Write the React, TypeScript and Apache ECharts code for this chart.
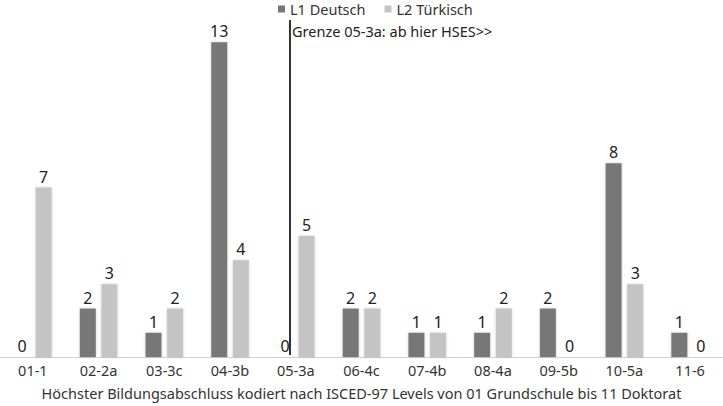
import React, { useEffect, useRef } from "react";
import * as echarts from "echarts";

const categories = ["01-1", "02-2a", "03-3c", "04-3b", "05-3a", "06-4c", "07-4b", "08-4a", "09-5b", "10-5a", "11-6"];
const l1Deutsch = [0, 2, 1, 13, 0, 2, 1, 1, 2, 8, 1];
const l2Tuerkisch = [7, 3, 2, 4, 5, 2, 1, 2, 0, 3, 0];
const seriesNames = ["L1 Deutsch", "L2 Türkisch"];
const xTitle = "Höchster Bildungsabschluss kodiert nach ISCED-97 Levels von 01 Grundschule bis 11 Doktorat";
const markerText = "Grenze 05-3a: ab hier HSES>>";

const FONT = "Noto Sans";

export default function App() {
  const ref = useRef<HTMLDivElement>(null);
  useEffect(() => {
    if (!ref.current) return;
    const chart = echarts.init(ref.current, null, { renderer: "svg" });
    const label = {
      show: true,
      position: "top",
      distance: 3,
      color: "#222",
      fontSize: 16,
      fontFamily: FONT,
    };
    const shadow = { shadowBlur: 3, shadowColor: "rgba(0,0,0,0.18)" };
    chart.setOption({
      animation: false,
      backgroundColor: "#fff",
      textStyle: { fontFamily: FONT },
      legend: {
        top: 1,
        left: 273,
        padding: [0, 5],
        itemWidth: 7,
        itemHeight: 7,
        itemGap: 19,
        icon: "rect",
        textStyle: { fontSize: 14.5, lineHeight: 16, color: "#333", fontFamily: FONT },
        data: seriesNames,
      },
      grid: { left: 0, right: 0, top: 18, bottom: 49, containLabel: false, outerBoundsMode: "none" },
      xAxis: {
        type: "category",
        data: categories,
        axisLine: { lineStyle: { color: "#d0d0d0" } },
        axisTick: { show: false },
        axisLabel: { fontSize: 14.5, color: "#333", margin: 5, fontFamily: FONT },
        name: xTitle,
        nameLocation: "middle",
        nameGap: 28,
        nameTextStyle: { fontSize: 14.5, color: "#333", fontFamily: FONT },
      },
      yAxis: {
        type: "value",
        min: 0,
        max: 14,
        show: false,
        splitLine: { show: false },
      },
      series: [
        {
          name: seriesNames[0],
          type: "bar",
          data: l1Deutsch,
          barWidth: 16,
          barGap: "35%",
          itemStyle: { color: "#777777", ...shadow },
          label,
        },
        {
          name: seriesNames[1],
          type: "bar",
          data: l2Tuerkisch,
          barWidth: 16,
          itemStyle: { color: "#c4c4c4", ...shadow },
          label,
        },
      ],
      graphic: [
        {
          type: "line",
          shape: { x1: 290, y1: 20, x2: 290, y2: 355 },
          style: { stroke: "#000", lineWidth: 1.6 },
        },
        {
          type: "text",
          x: 292,
          y: 23,
          style: { text: markerText, fontSize: 14.5, fill: "#222", fontFamily: FONT },
        },
      ],
    });
    return () => chart.dispose();
  }, []);
  return <div ref={ref} style={{ width: 723, height: 406, position: "absolute", left: 0, top: 0 }} />;
}
